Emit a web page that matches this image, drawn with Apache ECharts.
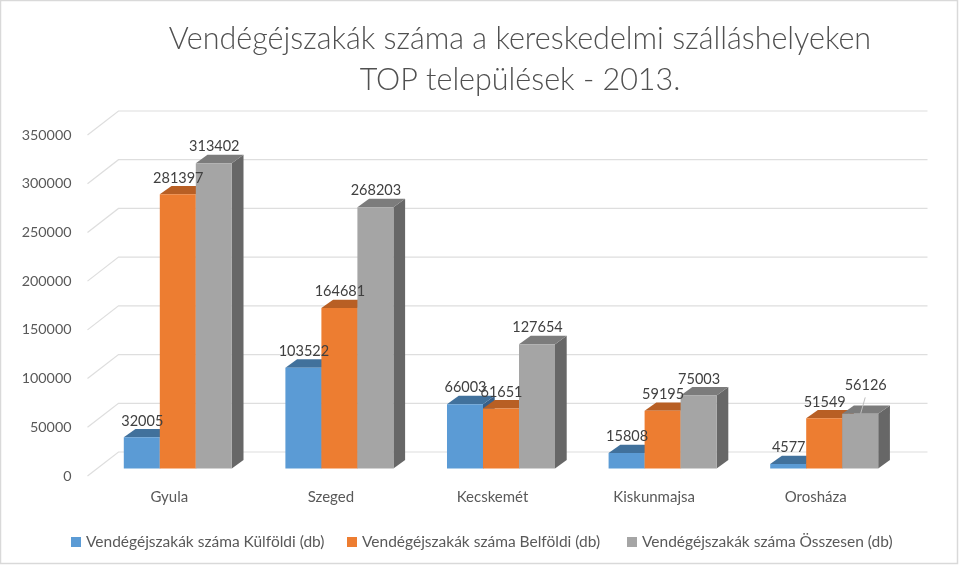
<!DOCTYPE html>
<html>
<head>
<meta charset="utf-8">
<style>html,body{margin:0;padding:0;background:#fff}#c{width:959px;height:565px}</style>
<script src="https://cdn.jsdelivr.net/npm/echarts@6/dist/echarts.min.js"></script>
</head>
<body>
<div id="c"></div>
<script>
const titleLines = ['Vendégéjszakák száma a kereskedelmi szálláshelyeken', 'TOP települések - 2013.'];
const categories = ['Gyula', 'Szeged', 'Kecskemét', 'Kiskunmajsa', 'Orosháza'];
const foreignNights = [32005, 103522, 66003, 15808, 4577];
const domesticNights = [281397, 164681, 61651, 59195, 51549];
const totalNights = [313402, 268203, 127654, 75003, 56126];
const seriesNames = ['Vendégéjszakák száma Külföldi (db)', 'Vendégéjszakák száma Belföldi (db)', 'Vendégéjszakák száma Összesen (db)'];
const yTicks = [0, 50000, 100000, 150000, 200000, 250000, 300000, 350000];

const FONT = 'Lato, "Open Sans", sans-serif';
const palette = [
  { front: '#5B9BD5', top: '#41719C', side: '#37608A' },
  { front: '#ED7D31', top: '#B85F24', side: '#A0521E' },
  { front: '#A5A5A5', top: '#7C7C7C', side: '#676767' }
];
const legendLefts = [66, 342, 622];
const barRatio = 0.2228, shiftX = 8.5, shiftY = -7.5, depthX = 11.7, depthY = -8.4;

function barSeries(name, values, sIdx) {
  const c = palette[sIdx];
  return {
    type: 'custom', name, coordinateSystem: 'cartesian2d', clip: false,
    itemStyle: { color: c.front }, z: 3,
    data: values.map((v, i) => [i, v]),
    encode: { x: 0, y: 1 },
    renderItem(params, api) {
      const p = api.coord([api.value(0), api.value(1)]);
      const zero = api.coord([api.value(0), 0]);
      const w = api.size([1, 0])[0] * barRatio;
      const x0 = p[0] + shiftX + (sIdx - 1.5) * w, x1 = x0 + w;
      const yT = p[1] + shiftY, yB = zero[1] + shiftY;
      const kids = [
        { type: 'polygon', shape: { points: [[x1, yT], [x1 + depthX, yT + depthY], [x1 + depthX, yB + depthY], [x1, yB]] }, style: { fill: c.side } },
        { type: 'polygon', shape: { points: [[x0, yT], [x0 + depthX, yT + depthY], [x1 + depthX, yT + depthY], [x1, yT]] }, style: { fill: c.top } },
        { type: 'rect', shape: { x: x0, y: yT, width: w, height: yB - yT }, style: { fill: c.front } }
      ];
      let lx = (x0 + x1) / 2 + 0.5, ly = yT + depthY - 8;
      const moved = sIdx === 2 && api.value(0) === 4;
      if (moved) {
        kids.push({ type: 'line', z2: 90, shape: { x1: lx + 4.5, y1: ly, x2: lx, y2: ly + 16 }, style: { stroke: '#BFBFBF', lineWidth: 1 } });
        lx += 5; ly -= 12;
      }
      kids.push({ type: 'text', z2: 100, style: { text: String(api.value(1)), x: lx, y: ly, align: 'center', verticalAlign: 'middle', fill: '#404040', font: '14.5px ' + FONT } });
      return { type: 'group', children: kids };
    }
  };
}

const chart = echarts.init(document.getElementById('c'), null, { renderer: 'canvas' });
chart.setOption({
  animation: false,
  backgroundColor: '#fff',
  title: {
    text: titleLines.join('\n'), left: 515, top: 14, textAlign: 'center',
    textStyle: { fontFamily: FONT, fontWeight: 300, fontSize: 30.5, lineHeight: 41, color: '#505050' }
  },
  graphic: [{ type: 'rect', silent: true, shape: { x: 0.5, y: 0.5, width: 957, height: 563 }, style: { fill: 'none', stroke: '#D9D9D9', lineWidth: 1.5 } }],
  grid: { left: 88.5, top: 135, width: 808, height: 341 },
  legend: seriesNames.map((n, i) => ({
    data: [n], left: legendLefts[i], top: 529, icon: 'rect', itemWidth: 10, itemHeight: 10,
    textStyle: { fontFamily: FONT, fontSize: 15.5, color: '#595959' }
  })),
  xAxis: {
    type: 'category', data: categories,
    axisLine: { show: false }, axisTick: { show: false }, splitLine: { show: false },
    axisLabel: { margin: 14, fontFamily: FONT, fontSize: 15, color: '#595959' }
  },
  yAxis: {
    type: 'value', min: 0, max: 350000, interval: 50000,
    axisLine: { show: false }, axisTick: { show: false }, splitLine: { show: false },
    axisLabel: { margin: 17, fontFamily: FONT, fontSize: 14.3, color: '#595959', formatter: v => String(v) }
  },
  series: [
    {
      type: 'custom', name: 'walls', coordinateSystem: 'cartesian2d', clip: false, z: 1, silent: true,
      data: yTicks.map(v => [0, v]),
      encode: { x: 0, y: 1 },
      renderItem(params, api) {
        const y = api.coord([0, api.value(1)])[1];
        const cs = params.coordSys;
        return {
          type: 'polyline',
          shape: { points: [[cs.x - 1, y], [cs.x + 30, y - 24], [cs.x + cs.width + 31, y - 24]] },
          style: { fill: 'none', stroke: '#DEDEDE', lineWidth: 1.2 }
        };
      }
    },
    barSeries(seriesNames[0], foreignNights, 0),
    barSeries(seriesNames[1], domesticNights, 1),
    barSeries(seriesNames[2], totalNights, 2)
  ]
});
</script>
</body>
</html>
